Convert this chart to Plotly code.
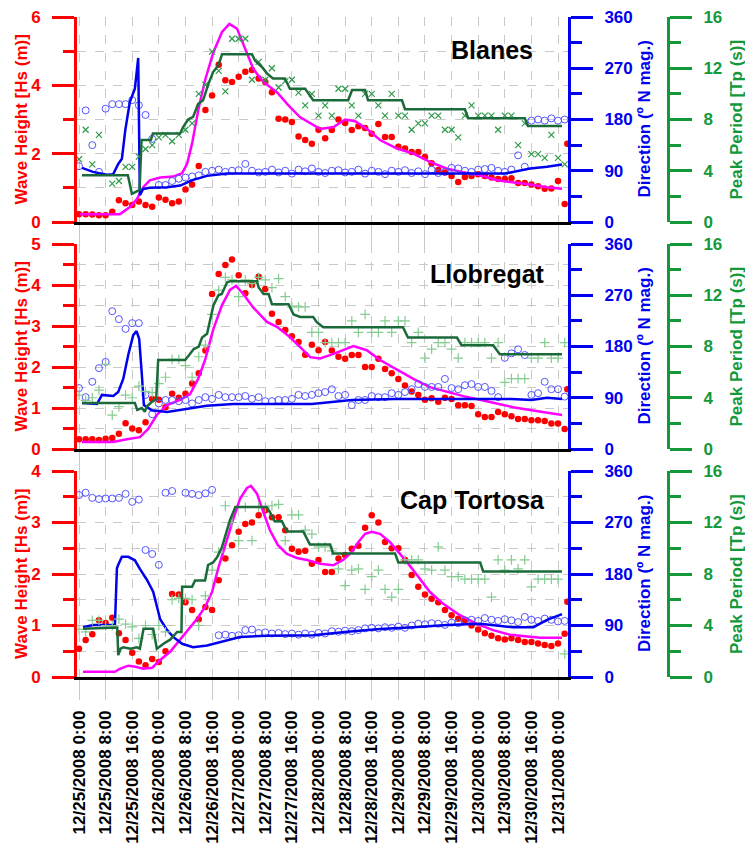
import plotly.graph_objects as go

# ---------------- data (hours since 12/25/2008 0:00) ----------------
HOURS = list(range(0, 147, 2))
EDGE_HOUR = 146.8
TICK_HOURS = list(range(0, 145, 8))
TICK_LABELS = [
    "12/25/2008 0:00", "12/25/2008 8:00", "12/25/2008 16:00",
    "12/26/2008 0:00", "12/26/2008 8:00", "12/26/2008 16:00",
    "12/27/2008 0:00", "12/27/2008 8:00", "12/27/2008 16:00",
    "12/28/2008 0:00", "12/28/2008 8:00", "12/28/2008 16:00",
    "12/29/2008 0:00", "12/29/2008 8:00", "12/29/2008 16:00",
    "12/30/2008 0:00", "12/30/2008 8:00", "12/30/2008 16:00",
    "12/31/2008 0:00",
]
STATIONS = ["Blanes", "Llobregat", "Cap Tortosa"]

# ---- Blanes ----
P1_HS = [0.23, 0.23, 0.22, 0.20, 0.20, 0.30, 0.64, 0.55, 0.50, 0.60,
         0.50, 0.45, 0.72, 0.65, 0.55, 0.60, 0.95, 1.10, 1.64, 3.28,
         3.70, 4.60, 4.15, 4.10, 4.25, 4.40, 4.45, 4.20, 4.10, 3.80,
         3.02, 3.00, 2.93, 2.50, 2.40, 2.29, 2.70, 2.45, 2.69, 3.00,
         2.90, 2.69, 2.80, 2.75, 2.58, 2.87, 2.49, 2.49, 2.20, 2.15,
         2.05, 2.05, 1.90, 1.72, 1.52, 1.45, 1.35, 1.17, 1.32, 1.35,
         1.40, 1.35, 1.30, 1.26, 1.26, 1.28, 1.14, 1.14, 1.10, 1.05,
         0.97, 0.98, 1.20, 0.53]
P1_HS_EDGE = 2.29
P1_DIR = [98, 196, 135, 88, 199, 207, 207, 207, 214, 205,
          188, 146, 65, 65, 72, 76, 78, 80, 82, 88,
          90, 92, 88, 90, 91, 102, 90, 87, 88, 92,
          87, 90, 85, 92, 89, 94, 88, 86, 90, 91,
          87, 88, 92, 85, 90, 88, 84, 90, 88, 91,
          86, 89, 84, 92, 86, 88, 95, 94, 90, 88,
          92, 93, 95, 90, 88, 92, 117, 97, 178, 180,
          178, 182, 178, 180]
P1_TP = [4.9, 7.2, 4.5, 6.8, None, 3.0, 3.2, 4.3, 4.3, 5.1,
         5.7, 6.0, 6.6, 6.8, 6.3, 6.8, 7.2, 7.7, 10.0, 10.7,
         13.3, 11.8, 10.2, 14.3, 14.3, 14.3, 11.1, 12.5, 11.1, 12.0,
         10.5, 11.0, 11.1, 10.1, 9.1, 10.0, 8.3, 9.1, 8.3, 10.4,
         10.4, 9.1, 8.3, 10.0, 10.0, 9.1, 8.3, 10.0, 8.3, 8.3,
         7.2, 7.7, 7.7, 8.3, 8.3, 7.2, 7.2, 6.6, 8.3, 9.1,
         8.3, 8.3, 8.3, 7.2, 8.3, 8.3, 6.0, 7.7, 5.3, 5.3,
         5.0, 6.8, 5.0, 4.5]
P1_HS_MODEL_T = [0.3, 12.3, 15.3, 17.4, 19.3, 21.3, 24.4, 28.3, 31.0, 32.5, 34.0, 35.9, 37.9,
                 40.4, 43.0, 45.2, 47.5, 50.0, 52.4, 55.4, 59.5, 62.9, 66.4, 72.5, 76.5, 80.0,
                 83.0, 86.6, 90.5, 95.6, 100.5, 105.5, 110.6, 115.5, 120.5, 125.7, 130.5,
                 135.6, 140.7, 145.2]
P1_HS_MODEL = [0.23, 0.23, 0.44, 0.67, 1.02, 1.22, 1.30, 1.33, 1.43, 1.70, 2.30, 3.30, 4.15,
               4.97, 5.56, 5.80, 5.66, 5.07, 4.48, 4.10, 3.80, 3.42, 3.07, 2.72, 2.78, 3.00,
               2.95, 2.72, 2.40, 2.15, 2.00, 1.76, 1.56, 1.46, 1.37, 1.22, 1.17,
               1.10, 1.02, 0.97]
P1_DIR_MODEL_T = [0.9, 4.2, 8.4, 10.3, 11.8, 12.9, 13.9, 15.3, 16.8, 17.8, 18.3, 19.3, 21.3,
                  26.5, 30.4, 34.3, 38.5, 44.5, 128.0, 130.5, 135.6, 140.7, 145.2]
P1_DIR_MODEL = [95, 88, 83, 84, 102, 111, 161, 211, 234, 288, 47, 58, 60,
                61, 64, 74, 81, 85, 85, 88, 94, 97, 101]
P1_TP_MODEL_T = [0.9, 14.7, 15.9, 17.7, 18.2, 18.8, 21.6, 22.2, 30.4, 31.3, 32.8, 34.3, 35.8,
                 37.3, 38.8, 40.3, 41.5, 42.4, 43.0, 52.0, 52.9, 55.0, 56.5, 58.3, 61.9,
                 63.4, 68.0, 68.8, 70.4, 80.9, 82.1, 86.0, 86.9, 97.1, 98.0, 116.0, 117.0,
                 134.0, 135.0, 145.2]
P1_TP_MODEL = [3.65, 3.65, 2.2, 2.4, 2.5, 6.4, 6.4, 6.9, 6.9, 7.4, 8.0, 8.2, 9.2,
               9.5, 10.7, 11.7, 12.1, 12.6, 13.1, 13.1, 12.6, 12.1, 11.6, 11.2, 11.2,
               10.4, 10.4, 10.1, 9.5, 9.5, 10.3, 10.3, 9.5, 9.5, 8.8, 8.8, 8.1,
               8.1, 7.5, 7.5]

# ---- Llobregat ----
P2_HS = [0.24, 0.24, 0.24, 0.22, 0.25, 0.27, 0.37, 0.63, 0.50, 0.46,
         0.65, 1.22, 1.20, 1.02, 1.35, 1.25, 1.35, 1.60, 1.85, 2.40,
         3.78, 4.27, 4.49, 4.62, 4.24, 3.80, 4.00, 4.20, 3.90, 3.30,
         3.10, 2.90, 2.75, 2.61, 2.30, 2.54, 2.41, 2.61, 2.40, 2.25,
         2.20, 2.29, 2.29, 2.00, 2.00, 2.20, 1.95, 1.85, 1.71, 1.55,
         1.40, 1.32, 1.20, 1.24, 1.15, 1.25, 1.22, 1.07, 1.07, 1.05,
         0.85, 0.78, 0.78, 0.90, 0.85, 0.80, 0.73, 0.73, 0.70, 0.70,
         0.68, 0.62, 0.62, 0.49]
P2_HS_EDGE = 1.46
P2_DIR = [107, 91, 118, 142, 153, 242, 228, 211, 221, 221,
          95, 61, 80, 86, 86, 84, 86, 80, 86, 91,
          88, 95, 91, 91, 91, 93, 88, 91, 84, 84,
          86, 86, 88, 95, 93, 95, 98, 100, 105, 93,
          95, 77, 86, 86, 93, 91, 91, 98, 95, 100,
          105, 114, 109, 109, 109, 123, 107, 105, 112, 114,
          109, 109, 102, 91, 160, 168, 175, 165, 95, 98,
          118, 105, 105, 92]
P2_TP = [4.2, 3.8, 4.0, 4.6, 6.6, 2.65, 3.3, 4.2, 4.0, 4.9,
         4.5, 4.4, 5.1, 5.6, 7.0, 7.0, 6.5, 5.6, 7.2, 8.1,
         10.5, 12.4, 13.4, 13.2, 11.9, 13.2, 12.9, 13.4, 13.2, 12.6,
         13.3, 11.9, 11.1, 11.1, 11.1, 9.1, 9.1, 8.3, 8.3, 8.3,
         8.3, 10.0, 9.1, 10.5, 9.1, 9.1, 10.0, 9.1, 10.0, 10.0,
         8.3, 9.1, 7.1, 7.8, 8.3, 8.3, 7.8, 7.1, 8.3, 8.3,
         8.3, 8.3, 7.1, 8.3, 5.2, 5.5, 5.5, 5.5, 7.1, 7.1,
         8.3, 7.1, 7.1, 8.3]
P2_HS_MODEL_T = [0.9, 10.3, 14.4, 18.3, 20.8, 23.4, 26.4, 30.4, 33.4, 35.8, 37.9, 40.4, 43.0,
                 45.4, 47.2, 49.4, 52.3, 56.5, 59.5, 63.4, 66.4, 69.5, 72.5, 76.5, 82.5,
                 86.5, 90.5, 95.6, 100.5, 105.5, 110.6, 115.5, 120.5, 125.7, 130.5,
                 135.6, 140.7, 145.2]
P2_HS_MODEL = [0.17, 0.17, 0.24, 0.29, 0.49, 0.83, 1.07, 1.20, 1.34, 1.71, 2.17, 2.93, 3.51,
               3.88, 3.98, 3.78, 3.46, 3.10, 2.98, 2.73, 2.49, 2.24, 2.21, 2.32, 2.51,
               2.41, 2.17, 1.93, 1.71, 1.51, 1.39, 1.29, 1.20, 1.10, 1.02,
               0.95, 0.88, 0.83]
P2_DIR_MODEL_T = [0.9, 5.4, 6.9, 10.3, 11.8, 13.3, 14.8, 16.3, 17.3, 18.1, 18.9, 19.5, 20.3,
                  21.9, 26.5, 32.4, 38.4, 46.4, 70.0, 82.0, 95.0, 130.0, 136.0, 140.7, 145.2]
P2_DIR_MODEL = [81, 79, 95, 93, 100, 123, 165, 200, 207, 193, 130, 77, 74,
                68, 65, 70, 76, 79, 79, 86, 88, 88, 86, 90, 88]
P2_TP_MODEL_T = [0.9, 16.8, 17.5, 18.9, 19.8, 20.3, 22.0, 23.2, 23.8, 31.9, 33.0, 34.5, 36.0,
                 37.0, 38.5, 39.2, 40.4, 41.9, 42.9, 44.5, 45.5, 53.5, 54.0, 55.5, 57.0,
                 58.0, 63.0, 64.5, 66.5, 70.4, 71.5, 73.4, 97.4, 98.9, 113.6, 115.0,
                 124.5, 126.5, 145.2]
P2_TP_MODEL = [3.6, 3.6, 3.05, 3.2, 2.9, 3.3, 3.7, 3.9, 6.95, 6.95, 7.3, 7.8, 8.0,
               8.7, 9.0, 9.8, 11.2, 12.0, 12.1, 13.0, 13.1, 13.1, 12.6, 12.1, 12.1,
               11.3, 11.3, 10.5, 10.3, 10.3, 9.9, 9.5, 9.5, 8.7, 8.7, 8.1,
               8.1, 7.4, 7.4]

# ---- Cap Tortosa ----
P3_HS = [0.55, 0.72, 0.83, 1.10, 1.05, 1.15, 0.85, 0.72, 0.47, 0.30,
         0.23, 0.35, 0.29, 0.50, 1.61, 1.60, 1.45, 1.30, 1.12, 1.36,
         1.30, 1.88, 2.30, 2.56, 2.82, 2.97, 3.00, 3.14, 3.24, 3.10,
         3.10, 2.85, 2.49, 2.43, 2.45, 2.20, 2.27, 2.04, 2.04, 2.30,
         2.37, 2.49, 2.55, 2.90, 3.14, 3.00, 2.62, 2.50, 2.50, 2.27,
         1.98, 1.75, 1.60, 1.52, 1.45, 1.30, 1.20, 1.13, 1.10, 1.00,
         0.92, 0.85, 0.80, 0.75, 0.73, 0.75, 0.72, 0.68, 0.68, 0.65,
         0.62, 0.60, 0.65, 0.84]
P3_HS_EDGE = 1.46
P3_DIR = [318, 322, 313, 311, 312, 312, 313, 320, 306, 310,
          222, 215, 196, 322, 325, None, 322, 320, 318, 321,
          327, 73, 74, 72, 73, 82, 83, 77, 78, 76,
          77, 75, 76, 74, 76, 74, 77, 76, 80, 79,
          81, 80, 82, 85, 86, 85, 87, 86, 88, 86,
          90, 93, 92, 94, 93, 91, 95, 94, 99, 100,
          98, 103, 100, 98, 101, 99, 96, 105, 100, 98,
          102, 100, 97, 98]
P3_TP = [3.7, 3.5, 4.4, 4.4, 4.0, 4.0, 4.5, 4.1, 3.9, 3.0,
         4.0, 3.3, 4.0, 3.5, 6.0, 6.1, 6.1, 6.0, 4.0, 6.3,
         8.3, 9.7, 13.3, 12.0, 10.6, 13.2, 10.6, 13.2, 13.2, 13.3,
         13.4, 10.6, 12.6, 12.6, 11.4, 11.1, 10.1, 10.1, 9.8, 8.4,
         7.1, 8.3, 8.4, 6.8, 7.8, 8.3, 6.8, 6.2, 6.8, 9.1,
         9.1, 9.1, 8.4, 8.3, 10.1, 8.3, 7.8, 7.8, 7.6, 7.6,
         7.6, 7.6, 6.2, 9.1, 8.3, 9.1, 8.4, 9.1, 7.0, 7.6,
         7.6, 7.6, 7.6, 1.8]
P3_HS_MODEL_T = [1.2, 10.8, 12.3, 14.8, 17.0, 19.3, 22.0, 24.4, 27.4, 29.8, 32.5, 35.5, 37.9,
                 40.0, 41.8, 43.9, 46.3, 48.4, 50.5, 51.7, 53.5, 55.4, 57.4, 59.8, 62.5,
                 65.5, 68.5, 72.5, 76.4, 79.4, 82.0, 84.0, 86.0, 88.0, 90.5, 93.5, 96.0,
                 98.6, 101.6, 105.5, 109.5, 114.5, 119.6, 124.5, 129.6, 134.7, 138.6, 145.2]
P3_HS_MODEL = [0.10, 0.10, 0.16, 0.22, 0.20, 0.16, 0.18, 0.33, 0.49, 0.68, 0.91, 1.13, 1.36,
               1.65, 2.10, 2.56, 3.05, 3.46, 3.67, 3.71, 3.56, 3.20, 2.85, 2.56, 2.39,
               2.31, 2.27, 2.20, 2.17, 2.27, 2.43, 2.62, 2.78, 2.82, 2.78, 2.62, 2.43,
               2.23, 1.98, 1.65, 1.42, 1.20, 1.03, 0.91, 0.82, 0.79, 0.76, 0.76]
P3_DIR_MODEL_T = [1.2, 4.2, 10.8, 11.4, 11.8, 12.9, 14.8, 16.8, 18.3, 20.4, 22.3, 23.4, 24.4,
                  26.5, 28.3, 31.0, 34.3, 38.5, 42.4, 48.4, 56.5, 70.4, 80.6, 90.5, 100.5,
                  110.6, 120.6, 125.7, 130.5, 136.6, 140.7, 145.2]
P3_DIR_MODEL = [87, 91, 91, 190, 196, 210, 210, 204, 189, 170, 149, 126, 101,
                82, 70, 58, 52, 55, 61, 70, 72, 73, 79, 84, 87,
                91, 93, 90, 87, 87, 100, 110]
P3_TP_MODEL_T = [1.2, 10.5, 11.5, 11.8, 12.5, 13.3, 15.5, 17.4, 18.3, 19.4, 22.3, 23.4, 24.4,
                 25.5, 27.4, 29.5, 30.8, 31.0, 34.0, 34.9, 37.9, 38.8, 40.3, 41.5, 43.0,
                 44.5, 45.4, 47.0, 56.4, 57.4, 58.8, 61.0, 62.5, 67.4, 69.4, 75.5, 76.4,
                 95.0, 96.0, 120.6, 121.5, 145.2]
P3_TP_MODEL = [3.75, 3.85, 3.85, 1.7, 2.2, 2.3, 2.2, 2.3, 2.2, 3.75, 3.75, 2.2, 2.4,
               2.6, 2.9, 3.5, 3.5, 7.0, 7.0, 7.5, 7.5, 8.7, 8.9, 9.3, 10.1,
               11.3, 12.2, 13.2, 13.2, 12.8, 12.1, 12.1, 11.3, 11.3, 10.3, 10.3, 9.6,
               9.6, 8.9, 8.9, 8.2, 8.2]

HS_MAX = [6, 5, 4]
HS_DTICK = [2, 1, 1]
HS_MINOR = [1, 0.5, 0.5]

# ---------------- styling / layout ----------------
# The page body has an 8px default margin: figure pixel = screen pixel - 8.
OFF = 8
W, H = 753 - OFF, 844 - OFF
ML, MR, MT, MB = 77 - OFF, 2, 4, 2
PW, PH = W - ML - MR, H - MT - MB
YSHIFT = 2   # shift everything down a little so the top tick labels are not clipped


def px_x(p):
    """screen x pixel -> paper x"""
    return (p - OFF - ML) / PW


def px_y(p):
    """screen y pixel -> paper y"""
    return (H - MB - (p + YSHIFT - OFF)) / PH


RED, MAG, BLUE, BLUE_PT = "#ff0000", "#ff00ff", "#0000ee", "#5555ff"
GREEN_AX, GREEN_LINE = "#13993a", "#1b6b3a"
GRID = "#c9c9c9"
FONT = "Liberation Sans, Arial, sans-serif"

PANEL_PIX = [(15, 220), (242, 447), (469, 675)]
X_DOMAIN = [0, px_x(568)]
GREEN_POS = px_x(668)

panels = [
    dict(hs=P1_HS, edge=P1_HS_EDGE, dir=P1_DIR, tp=P1_TP,
         hsm=(P1_HS_MODEL_T, P1_HS_MODEL), dirm=(P1_DIR_MODEL_T, P1_DIR_MODEL),
         tpm=(P1_TP_MODEL_T, P1_TP_MODEL), sym="x-thin", tpcol="#2f9a4a", tpsize=6),
    dict(hs=P2_HS, edge=P2_HS_EDGE, dir=P2_DIR, tp=P2_TP,
         hsm=(P2_HS_MODEL_T, P2_HS_MODEL), dirm=(P2_DIR_MODEL_T, P2_DIR_MODEL),
         tpm=(P2_TP_MODEL_T, P2_TP_MODEL), sym="cross-thin", tpcol="#86cc92", tpsize=7),
    dict(hs=P3_HS, edge=P3_HS_EDGE, dir=P3_DIR, tp=P3_TP,
         hsm=(P3_HS_MODEL_T, P3_HS_MODEL), dirm=(P3_DIR_MODEL_T, P3_DIR_MODEL),
         tpm=(P3_TP_MODEL_T, P3_TP_MODEL), sym="cross-thin", tpcol="#86cc92", tpsize=7),
]

fig = go.Figure()
layout = {}
annotations = []

for i, p in enumerate(panels):
    n = i + 1
    xa = "x" if n == 1 else f"x{n}"
    ya_n = [3 * i + 1, 3 * i + 2, 3 * i + 3]
    ya = ["y" if k == 1 else f"y{k}" for k in ya_n]

    # Wave height (left axis)
    fig.add_trace(go.Scatter(x=HOURS + [EDGE_HOUR], y=p["hs"] + [p["edge"]], mode="markers",
                             marker=dict(color=RED, size=6.5), xaxis=xa, yaxis=ya[0],
                             showlegend=False))
    fig.add_trace(go.Scatter(x=p["hsm"][0], y=p["hsm"][1], mode="lines",
                             line=dict(color=MAG, width=2.5), xaxis=xa, yaxis=ya[0],
                             showlegend=False))
    # Direction
    fig.add_trace(go.Scatter(x=HOURS, y=p["dir"], mode="markers",
                             marker=dict(symbol="circle-open", color=BLUE_PT, size=7,
                                         line=dict(width=1)),
                             xaxis=xa, yaxis=ya[1], showlegend=False))
    fig.add_trace(go.Scatter(x=p["dirm"][0], y=p["dirm"][1], mode="lines",
                             line=dict(color=BLUE, width=2.5), xaxis=xa, yaxis=ya[1],
                             showlegend=False))
    # Peak period
    fig.add_trace(go.Scatter(x=HOURS, y=p["tp"], mode="markers",
                             marker=dict(symbol=p["sym"], size=p["tpsize"], color=p["tpcol"],
                                         line=dict(color=p["tpcol"], width=1.2)),
                             xaxis=xa, yaxis=ya[2], showlegend=False))
    fig.add_trace(go.Scatter(x=p["tpm"][0], y=p["tpm"][1], mode="lines",
                             line=dict(color=GREEN_LINE, width=2.5), xaxis=xa, yaxis=ya[2],
                             showlegend=False))

    top, bot = PANEL_PIX[i]
    dom = [px_y(bot), px_y(top)]

    xkey = "xaxis" if n == 1 else f"xaxis{n}"
    layout[xkey] = dict(
        domain=X_DOMAIN, anchor=ya[0], range=[-0.6, 147.0],
        tickmode="array", tickvals=TICK_HOURS, ticktext=TICK_LABELS,
        showticklabels=(n == 3), tickangle=-90,
        tickfont=dict(family=FONT, size=17, color="black", weight="bold"),
        ticks="outside", ticklen=20, tickcolor=GRID, tickwidth=1,
        showgrid=True, gridcolor=GRID, griddash="dash", gridwidth=1,
        showline=True, linecolor="black", linewidth=2.5, zeroline=False,
        ticklabelstandoff=4, ticklabeloverflow="allow",
    )

    def yk(k):
        return "yaxis" if k == 1 else f"yaxis{k}"

    layout[yk(ya_n[0])] = dict(
        domain=dom, anchor=xa, range=[0, HS_MAX[i]], dtick=HS_DTICK[i], tick0=0,
        side="left", showline=True, linecolor=RED, linewidth=3,
        ticks="outside", ticklen=22, tickwidth=3, tickcolor=RED,
        tickfont=dict(family=FONT, size=17, color=RED, weight="bold"),
        showgrid=True, gridcolor=GRID, griddash="dash", gridwidth=1, zeroline=False,
        minor=dict(dtick=HS_MINOR[i], tick0=0, ticks="outside", ticklen=11, tickwidth=3,
                   tickcolor=RED, showgrid=True, gridcolor=GRID, griddash="dash",
                   gridwidth=1),
        ticklabelstandoff=8, ticklabeloverflow="allow",
    )
    layout[yk(ya_n[1])] = dict(
        anchor=xa, overlaying=ya[0], side="right", range=[0, 360], dtick=90, tick0=0,
        showline=True, linecolor=BLUE, linewidth=3,
        ticks="outside", ticklen=22, tickwidth=3, tickcolor=BLUE,
        tickfont=dict(family=FONT, size=17, color=BLUE, weight="bold"),
        showgrid=False, zeroline=False,
        minor=dict(dtick=45, tick0=0, ticks="outside", ticklen=11, tickwidth=3,
                   tickcolor=BLUE, showgrid=False),
        ticklabelstandoff=8, ticklabeloverflow="allow",
    )
    layout[yk(ya_n[2])] = dict(
        anchor="free", position=GREEN_POS, overlaying=ya[0], side="right",
        range=[0, 16], dtick=4, tick0=0,
        showline=True, linecolor=GREEN_AX, linewidth=3,
        ticks="outside", ticklen=22, tickwidth=3, tickcolor=GREEN_AX,
        tickfont=dict(family=FONT, size=17, color=GREEN_AX, weight="bold"),
        showgrid=False, zeroline=False,
        minor=dict(dtick=2, tick0=0, ticks="outside", ticklen=11, tickwidth=3,
                   tickcolor=GREEN_AX, showgrid=False),
        ticklabelstandoff=8, ticklabeloverflow="allow",
    )

    mid = px_y((top + bot) / 2)
    annotations.append(dict(text="Wave Height [Hs (m)]", x=px_x(21), y=mid, xref="paper",
                            yref="paper", textangle=-90, showarrow=False,
                            xanchor="center", yanchor="middle",
                            font=dict(family=FONT, size=17, color=RED, weight="bold")))
    annotations.append(dict(text="Direction (º N mag.)", x=px_x(644), y=mid, xref="paper",
                            yref="paper", textangle=-90, showarrow=False,
                            xanchor="center", yanchor="middle",
                            font=dict(family=FONT, size=17, color=BLUE, weight="bold")))
    annotations.append(dict(text="Peak Period [Tp (s)]", x=px_x(736), y=mid, xref="paper",
                            yref="paper", textangle=-90, showarrow=False,
                            xanchor="center", yanchor="middle",
                            font=dict(family=FONT, size=17, color=GREEN_AX, weight="bold")))

TITLE_POS = [(535, 48), (547, 272), (547, 498)]
for i, name in enumerate(STATIONS):
    tx, ty = TITLE_POS[i]
    annotations.append(dict(text=name, x=px_x(tx), y=px_y(ty), xref="paper", yref="paper",
                            showarrow=False, xanchor="right", yanchor="middle",
                            font=dict(family=FONT, size=25, color="black", weight="bold")))

fig.update_layout(
    width=W, height=H,
    margin=dict(l=ML, r=MR, t=MT, b=MB, autoexpand=False),
    paper_bgcolor="white", plot_bgcolor="white",
    showlegend=False, annotations=annotations,
    **layout,
)

fig.write_html("out.html")
